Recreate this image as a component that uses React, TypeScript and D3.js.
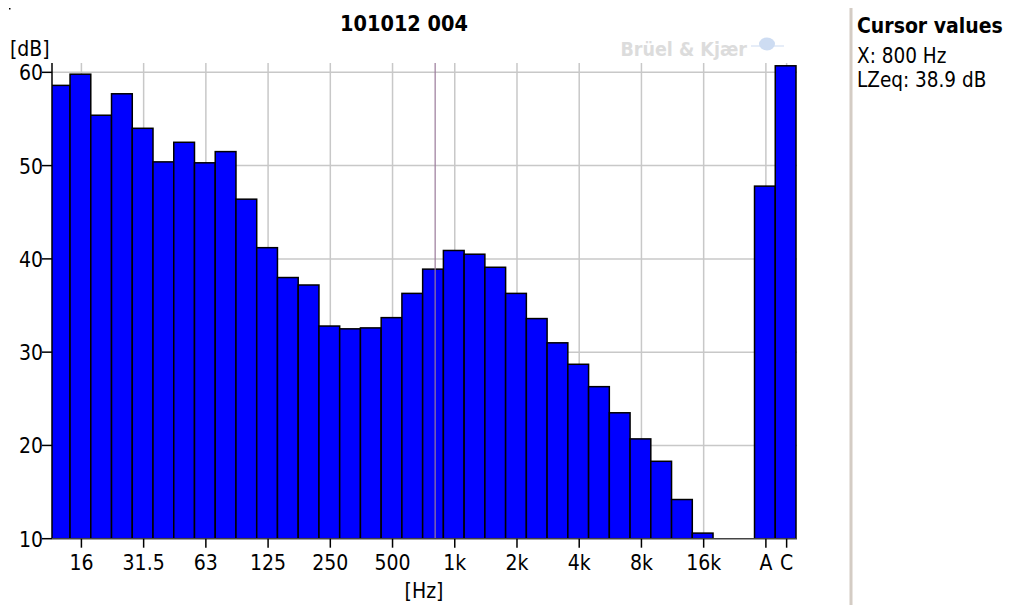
import React from "react";
import * as d3 from "d3";

// 1/3 octave bands, followed by an empty slot and the A / C broadband values
const bands = [
  "12.5", "16", "20", "25", "31.5", "40", "50", "63", "80", "100", "125",
  "160", "200", "250", "315", "400", "500", "630", "800", "1k", "1.25k",
  "1.6k", "2k", "2.5k", "3.15k", "4k", "5k", "6.3k", "8k", "10k", "12.5k",
  "16k", "20k",
];
const levels = [
  58.6, 59.8, 55.4, 57.7, 54.0, 50.4, 52.5, 50.3, 51.5, 46.4, 41.2,
  38.0, 37.2, 32.8, 32.5, 32.6, 33.7, 36.3, 38.9, 40.9, 40.5,
  39.1, 36.3, 33.6, 31.0, 28.7, 26.3, 23.5, 20.7, 18.3, 14.2,
  10.6, 9.5,
];
const broadband = ["A", "C"];
const broadbandLevels = [47.8, 60.7];

const xTickLabels = ["16", "31.5", "63", "125", "250", "500", "1k", "2k", "4k", "8k", "16k", "A", "C"];
const yTicks = [10, 20, 30, 40, 50, 60];

const cursorBand = "800";
const cursorLevel = 38.9;

const font = "'DejaVu Sans Condensed', 'DejaVu Sans', sans-serif";

const App = () => {
  const width = 1012;
  const height = 605;
  const plot = { left: 52, right: 797, top: 63, bottom: 538.7 };

  const slots = [...bands, "gap", ...broadband];
  const values = [...levels, null, ...broadbandLevels];

  const x = d3
    .scaleBand()
    .domain(slots)
    .range([49.3, 796])
    .padding(0);

  const y = d3.scaleLinear().domain([10, 61]).range([plot.bottom, plot.top]);

  const tickX = (d) => x(d) + x.bandwidth() / 2 + 1;

  return (
    <svg
      width={width}
      height={height}
      style={{ position: "absolute", left: 0, top: 0, background: "#fff" }}
      fontFamily={font}
      fontStretch="condensed"
    >
      <defs>
        <clipPath id="plotClip">
          <rect x={plot.left} y={0} width={plot.right - plot.left} height={plot.bottom} />
        </clipPath>
      </defs>

      <rect x={9} y={8} width={1.5} height={1.5} fill="#000" />

      {/* title */}
      <text x={404} y={31} textAnchor="middle" fontWeight="bold" fontSize={21.5}>
        101012 004
      </text>

      {/* watermark */}
      <text x={747} y={56} textAnchor="end" fontWeight="bold" fontSize={19.5} fill="#dcdcdc">
        Brüel &amp; Kjær
      </text>
      <g fill="#cddcf2" stroke="#cddcf2">
        <ellipse cx={767} cy={44} rx={8} ry={6.5} stroke="none" />
        <line x1={751} y1={46} x2={784} y2={46} strokeWidth={1.2} />
      </g>

      {/* grid */}
      <g stroke="#c8c8c8" strokeWidth={1.5}>
        {yTicks.slice(1).map((t) => (
          <line key={t} x1={plot.left} x2={plot.right} y1={y(t)} y2={y(t)} />
        ))}
        {xTickLabels.map((t) => (
          <line key={t} x1={tickX(t)} x2={tickX(t)} y1={plot.top} y2={plot.bottom} />
        ))}
      </g>

      {/* bars */}
      <g clipPath="url(#plotClip)">
        {slots.map((s, i) =>
          values[i] != null && values[i] > 10 ? (
            <rect
              key={s}
              x={x(s)}
              y={y(values[i])}
              width={x.bandwidth()}
              height={y(10) - y(values[i])}
              fill="#0000ff"
              stroke="#000"
              strokeWidth={1.5}
            />
          ) : null
        )}
      </g>

      {/* cursor */}
      <line
        x1={x(cursorBand) + 12.5}
        x2={x(cursorBand) + 12.5}
        y1={plot.top}
        y2={plot.bottom}
        stroke="#9a7a9a"
        strokeWidth={1.2}
      />

      {/* axes */}
      <line x1={plot.left} x2={plot.left} y1={plot.top} y2={plot.bottom} stroke="#000" strokeWidth={1.5} />
      <line x1={plot.left} x2={plot.right} y1={plot.bottom} y2={plot.bottom} stroke="#444" strokeWidth={1.5} />

      <g fontSize={21} fill="#000">
        {yTicks.map((t) => (
          <g key={t}>
            <line x1={42} x2={plot.left} y1={y(t)} y2={y(t)} stroke="#000" strokeWidth={1.5} />
            <text x={43} y={y(t) + 8} textAnchor="end">
              {t}
            </text>
          </g>
        ))}
        {xTickLabels.map((t) => (
          <g key={t}>
            <line x1={tickX(t)} x2={tickX(t)} y1={plot.bottom} y2={plot.bottom + 9} stroke="#000" strokeWidth={1.5} />
            <text x={tickX(t)} y={570} textAnchor="middle">
              {t}
            </text>
          </g>
        ))}
        <text x={10} y={56}>[dB]</text>
        <text x={424} y={598} textAnchor="middle">[Hz]</text>
      </g>

      {/* cursor panel */}
      <rect x={849.5} y={8} width={3} height={height - 8} fill="#d4ccc4" />
      <text x={857} y={33} fontWeight="bold" fontSize={21}>
        Cursor values
      </text>
      <text x={857} y={63} fontSize={20.5}>
        X: {cursorBand} Hz
      </text>
      <text x={857} y={87} fontSize={20.5}>
        LZeq: {cursorLevel} dB
      </text>
    </svg>
  );
};

export default App;
